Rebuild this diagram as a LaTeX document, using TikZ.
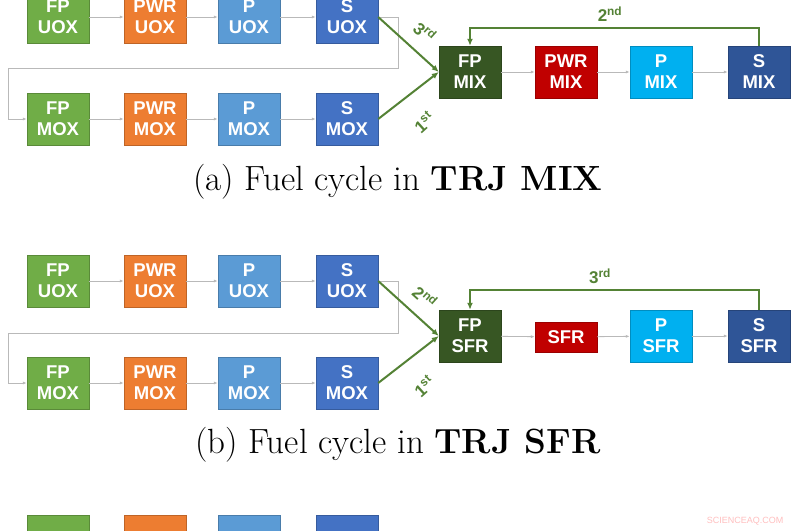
\documentclass[tikz,border=0pt]{standalone}
\usepackage{fontspec}
\newfontfamily\arial{Liberation Sans}
\usetikzlibrary{arrows.meta}
\definecolor{cg}{HTML}{70AD47}\definecolor{co}{HTML}{ED7D31}
\definecolor{clb}{HTML}{5B9BD5}\definecolor{cdb}{HTML}{4472C4}
\definecolor{mg}{HTML}{375623}\definecolor{mr}{HTML}{C00000}
\definecolor{mc}{HTML}{00B0F0}\definecolor{mb}{HTML}{2F5597}
\definecolor{arr}{HTML}{548235}
\tikzset{
 bx/.style={fill=#1,draw=#1!80!black,minimum width=62pt,minimum height=52pt,inner sep=0pt,align=center,text=white,font=\arial\bfseries\fontsize{18.5}{21}\selectfont},
 gl/.style={draw=gray!55,line width=0.8pt,-{Latex[length=4pt,width=3pt]}},
 gn/.style={draw=arr,line width=2pt,-{Latex[length=7pt,width=6pt]}},
 lb/.style={text=arr,font=\arial\bfseries\fontsize{17}{19}\selectfont},
 captxt/.style={font=\fontsize{35}{40}\selectfont}
}
\begin{document}
\begin{tikzpicture}[x=1pt,y=-1pt]
\useasboundingbox (0,0) rectangle (800,530);
\fill[white] (0,0) rectangle (800,530);
% ---- (a)
\node[bx=cg] (a1) at (58,17) {FP\\UOX};
\node[bx=co] (a2) at (155,17) {PWR\\UOX};
\node[bx=clb] (a3) at (249,17) {P\\UOX};
\node[bx=cdb] (a4) at (347,17) {S\\UOX};
\node[bx=cg] (b1) at (58,119) {FP\\MOX};
\node[bx=co] (b2) at (155,119) {PWR\\MOX};
\node[bx=clb] (b3) at (249,119) {P\\MOX};
\node[bx=cdb] (b4) at (347,119) {S\\MOX};
\node[bx=mg] (m1) at (470,72) {FP\\MIX};
\node[bx=mr] (m2) at (566,72) {PWR\\MIX};
\node[bx=mc] (m3) at (661,72) {P\\MIX};
\node[bx=mb] (m4) at (759,72) {S\\MIX};
\draw[gl] (a1) -- (a2); \draw[gl] (a2) -- (a3); \draw[gl] (a3) -- (a4);
\draw[gl] (b1) -- (b2); \draw[gl] (b2) -- (b3); \draw[gl] (b3) -- (b4);
\draw[gl] (m1) -- (m2); \draw[gl] (m2) -- (m3); \draw[gl] (m3) -- (m4);
\draw[gl] (a4.east) -- (398,17) -- (398,68) -- (8,68) -- (8,119) -- (b1.west);
\draw[gn] (a4.east) -- (m1.west);
\draw[gn] (b4.east) -- (m1.west);
\draw[gn] (m4.north) -- (759,28) -- (470,28) -- (m1.north);
\node[lb] (l2) at (610,14) {2\textsuperscript{nd}};
\node[lb,rotate=-42] (l3) at (425,32) {3\textsuperscript{rd}};
\node[lb,rotate=42] (l1) at (424,122) {1\textsuperscript{st}};
\node[captxt] (ca) at (398,182) {(a) Fuel cycle in \textbf{TRJ MIX}};
% ---- (b)
\node[bx=cg] (c1) at (58,281) {FP\\UOX};
\node[bx=co] (c2) at (155,281) {PWR\\UOX};
\node[bx=clb] (c3) at (249,281) {P\\UOX};
\node[bx=cdb] (c4) at (347,281) {S\\UOX};
\node[bx=cg] (d1) at (58,383) {FP\\MOX};
\node[bx=co] (d2) at (155,383) {PWR\\MOX};
\node[bx=clb] (d3) at (249,383) {P\\MOX};
\node[bx=cdb] (d4) at (347,383) {S\\MOX};
\node[bx=mg] (s1) at (470,336) {FP\\SFR};
\node[bx=mr,minimum height=30pt] (s2) at (566,337) {SFR};
\node[bx=mc] (s3) at (661,336) {P\\SFR};
\node[bx=mb] (s4) at (759,336) {S\\SFR};
\draw[gl] (c1) -- (c2); \draw[gl] (c2) -- (c3); \draw[gl] (c3) -- (c4);
\draw[gl] (d1) -- (d2); \draw[gl] (d2) -- (d3); \draw[gl] (d3) -- (d4);
\draw[gl] (s1) -- (s2); \draw[gl] (s2) -- (s3); \draw[gl] (s3) -- (s4);
\draw[gl] (c4.east) -- (398,281) -- (398,333) -- (8,333) -- (8,383) -- (d1.west);
\draw[gn] (c4.east) -- (s1.west);
\draw[gn] (d4.east) -- (s1.west);
\draw[gn] (s4.north) -- (759,290) -- (470,290) -- (s1.north);
\node[lb] (k3) at (600,276) {3\textsuperscript{rd}};
\node[lb,rotate=-42] (k2) at (425,297) {2\textsuperscript{nd}};
\node[lb,rotate=42] (k1) at (424,386) {1\textsuperscript{st}};
\node[captxt] (cb) at (398,445) {(b) Fuel cycle in \textbf{TRJ SFR}};
% ---- (c) partial
\node[bx=cg,anchor=north] (e1) at (58,515) {FP};
\node[bx=co,anchor=north] (e2) at (155,515) {PWR};
\node[bx=clb,anchor=north] (e3) at (249,515) {P};
\node[bx=cdb,anchor=north] (e4) at (347,515) {S};
\node[text=red!25,font=\arial\fontsize{9}{10}\selectfont] (wm) at (745,521) {SCIENCEAQ.COM};
\end{tikzpicture}
\end{document}
